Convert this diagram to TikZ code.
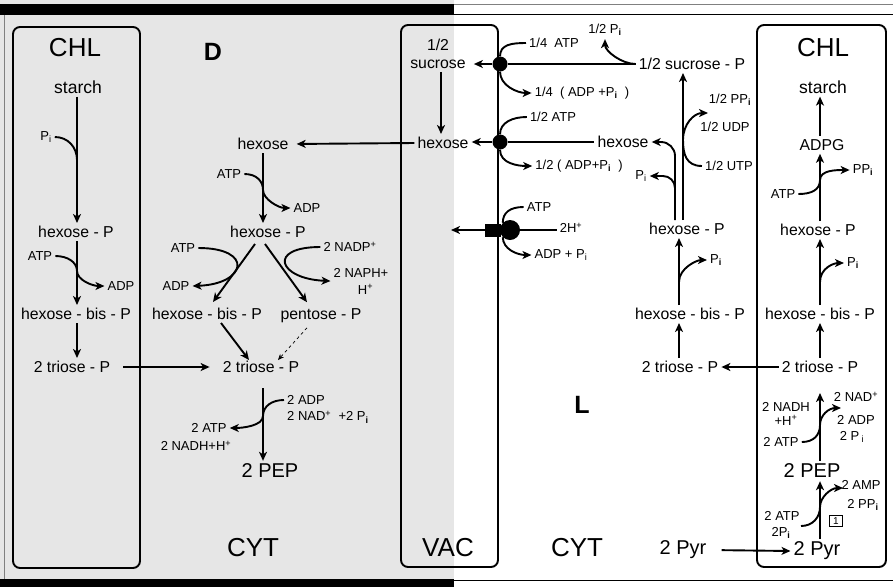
\documentclass[tikz,border=0pt]{standalone}
\usepackage{fontspec}
\setmainfont{Liberation Sans}
\usepackage{tikz}
\usetikzlibrary{arrows.meta, positioning, calc}
\definecolor{darkHalf}{HTML}{E6E6E6}
\definecolor{rimGray}{HTML}{808080}
\newcommand{\phosI}{P\textsubscript{i}}
\newcommand{\phosB}{P\textsubscript{\textbf{i}}}

\begin{document}
\begin{tikzpicture}[
  x=1pt, y=-1pt,
  every node/.style={inner sep=3pt},
  lbl/.style={font=\fontsize{15.8}{19}\selectfont},
  sml/.style={font=\fontsize{13}{15}\selectfont},
  big/.style={font=\fontsize{26}{28}\selectfont},
  pep/.style={font=\fontsize{20}{22}\selectfont},
  tag/.style={font=\fontsize{25}{27}\selectfont\bfseries},
  sta/.style={font=\fontsize{17.5}{20}\selectfont},
  cbox/.style={draw, line width=1.9pt, rounded corners=7pt},
  arr/.style={-{Stealth[length=9pt, width=8pt, inset=2.5pt]}, line width=1.9pt},
  ln/.style={line width=1.9pt},
  mdot/.style={circle, fill, inner sep=0pt}]

  \useasboundingbox (0,0) rectangle (893,587);
  % Dark and light halves
  \fill[darkHalf] (0,0) rectangle (454,587);
  \fill (0,4) rectangle (454,15);
  \fill (0,579) rectangle (454,587);
  \draw[rimGray, line width=1pt] (454,4.5) -- (893,4.5);
  \draw[line width=1pt] (454,14) -- (893,14);
  \draw[line width=1pt] (454,580) -- (893,580);
  \draw[rimGray, line width=1pt] (4,15) -- (4,579);
  % Compartments
  \foreach \xa/\ya/\xb/\yb in {13/27/140/568, 401/25/498/567, 757/25/886/567}
    \draw[cbox] (\xa,\ya) rectangle (\xb,\yb);
  \node[big] (chlL) at (75,48) {CHL};
  \node[tag] (tagD) at (213,52) {D};
  \node[big] (cytL) at (253,548) {CYT};
  \node[big] (vac) at (448,548) {VAC};
  \node[big] (cytR) at (577,548) {CYT};
  \node[tag] (tagL) at (582,405) {L};
  \node[big] (chlR) at (823,48) {CHL};
  % Columns
  \coordinate (colL) at (77,0);
  \coordinate (colM) at (263,0);
  \coordinate (colV) at (441,0);
  \coordinate (colH) at (675,0);
  \coordinate (colR) at (679,0);
  \coordinate (colS) at (683,0);
  \coordinate (colC) at (820,0);

  % Dark: chloroplast
  \node[sta] (starchL) at (78,87) {starch};
  \node[sml] (piL) at (46,137) {\phosI};
  \node[lbl] (hexpL) at (76,232) {hexose - P};
  \node[sml] (atpL) at (40,256) {ATP};
  \node[sml] (adpL) at (121,286) {ADP};
  \node[lbl] (bisL) at (76,314) {hexose - bis - P};
  \node[lbl] (trioL) at (72,367) {2 triose - P};
  \draw[arr] (starchL.south -| colL) -- (hexpL.north -| colL);
  \draw[ln] (piL.east) .. controls +(13,0) and +(0,-13) .. (77,160);
  \draw[arr] (hexpL.south -| colL) -- (bisL.north -| colL);
  \draw[arr] (atpL.east) .. controls +(12,0) and +(0,-9) .. (77,271)
    .. controls +(0,9) and +(-12,0) .. (adpL.west);
  \draw[arr] (bisL.south -| colL) -- (trioL.north -| colL);

  % Dark: cytosol
  \node[lbl] (hexM) at (263,144) {hexose};
  \node[sml] (atpM1) at (229,174) {ATP};
  \node[sml] (adpM1) at (307,208) {ADP};
  \node[lbl] (hexpM) at (268,232) {hexose - P};
  \node[sml] (atpM2) at (183,248) {ATP};
  \node[sml] (adpM2) at (176,286) {ADP};
  \node[sml] (nadpM) at (350,247) {2 NADP\textsuperscript{+}};
  \node[sml, align=center, font=\fontsize{13}{17}\selectfont] (naphM) at (361,281)
    {2 NAPH+\\\hspace*{9pt}H\textsuperscript{+}};
  \node[lbl] (bisM) at (207,314) {hexose - bis - P};
  \node[lbl] (pentM) at (321,315.5) {pentose - P};
  \node[lbl] (trioM) at (261,367) {2 triose - P};
  \node[sml, anchor=west] (adpM3) at (284,400) {2 ADP};
  \node[sml, anchor=west] (nadM3) at (284,417) {2 NAD\textsuperscript{+}\ \ +2 \phosB};
  \node[sml] (atpM3) at (209,428) {2 ATP};
  \node[sml] (nadhM) at (196,446) {2 NADH+H\textsuperscript{+}};
  \node[pep] (pepM) at (270,471) {2 PEP};
  \draw[arr, shorten <=10pt, shorten >=10pt] (trioL.east) -- (trioM.west);
  \draw[arr] (hexM.south -| colM) -- (hexpM.north -| colM);
  \draw[arr] (atpM1.east) .. controls +(12,0) and +(0,-9) .. (263,190)
    .. controls +(0,9) and +(-12,0) .. (adpM1.west);
  \draw[arr] ($(hexpM.south)+(-13,3)$) -- ($(bisM.north)+(6,-3)$);
  \draw[arr] (atpM2.east) .. controls +(56,0) and +(54,-2) .. (adpM2.east);
  \draw[arr] ($(hexpM.south)+(-3,3)$) -- ($(pentM.north)+(-14,-3)$);
  \draw[arr] (nadpM.west) .. controls +(-54,0) and +(-52,-2) .. (naphM.west);
  \draw[arr] ($(bisM.south)+(14,0)$) -- ($(trioM.north)+(-12,2)$);
  \draw[dashed, -{Stealth[length=6pt, width=5pt]}, line width=0.7pt]
    ($(pentM.south)+(-14,2)$) -- ($(trioM.north)+(17,2)$);
  \draw[arr, shorten <=12pt] (trioM.south -| colM) -- (pepM.north -| colM);
  \draw[arr] (adpM3.west) .. controls +(-12,0) and +(0,-10) .. (263,416)
    .. controls +(0,10) and +(12,0) .. (atpM3.east);

  % Vacuole
  \node[lbl, align=center, font=\fontsize{15.8}{17.5}\selectfont] (sucV) at (438,54) {1/2\\sucrose};
  \node[lbl] (hexV) at (443,143) {hexose};
  \draw[arr] (sucV.south -| colV) -- (hexV.north -| colV);
  \draw[arr, shorten >=5pt] (hexV.west) -- (hexM.east);

  % Tonoplast
  \node[mdot, minimum size=15pt] (c1) at (500,64) {};
  \node[mdot, minimum size=15pt] (c2) at (500,142) {};
  \node[mdot, minimum size=20pt] (pumpC) at (510,230) {};
  \node[fill, inner sep=0pt, minimum width=16pt, minimum height=13pt] (pumpR) at (493,230) {};
  \coordinate (pumpOut) at (451,230);
  \node[sml] (atp14) at (554,43) {1/4\ \ ATP};
  \node[sml] (pi12) at (605,30) {1/2 \phosB};
  \node[lbl] (sucP) at (692,64) {1/2 sucrose - P};
  \node[sml] (adp14) at (582,93) {1/4\ \ ( ADP +\phosB\ \ )};
  \node[sml] (atp12) at (553,117) {1/2 ATP};
  \node[lbl] (hexR) at (623,142) {hexose};
  \node[sml] (adp12) at (579,166) {1/2 ( ADP+\phosB\ \ )};
  \node[sml] (atpP) at (539,207) {ATP};
  \node[sml] (hP) at (571,228) {2H\textsuperscript{+}};
  \node[sml] (adpP) at (561,255) {ADP + \phosI};
  \draw[arr, shorten >=5pt] (c1.west) -- (c1.west -| sucV.east);
  \draw[ln] (c1) -- (sucP.west);
  \draw[arr] (sucP.west) .. controls +(-14,0) and +(0,12) .. (pi12.south);
  \draw[ln] (atp14.west) .. controls +(-14,0) and +(0,-12) .. (c1.north);
  \draw[arr] (c1.south) .. controls +(0,14) and +(-14,0) .. (adp14.west);
  \draw[arr] (c2.west) -- (c2.west -| hexV.east);
  \draw[ln] (c2) -- (hexR.west);
  \draw[ln] (atp12.west) .. controls +(-14,0) and +(0,-12) .. (c2.north);
  \draw[arr] (c2.south) .. controls +(0,14) and +(-14,0) .. (adp12.west);
  \draw[arr] (pumpR.west) -- (pumpOut);
  \draw[ln] (pumpC.east) -- (pumpC.east -| hP.west);
  \draw[ln] (atpP.west) .. controls +(-14,0) and +(0,-10) .. (pumpC.north west);
  \draw[arr] (pumpC.south west) .. controls +(0,12) and +(-14,0) .. (adpP.west);

  % Light: cytosol
  \node[sml] (ppiR) at (730,100) {1/2 PP\textsubscript{\textbf{i}}};
  \node[sml] (udpR) at (725,127) {1/2 UDP};
  \node[sml] (utpR) at (729,166) {1/2 UTP};
  \coordinate (udpTip) at (708,113);
  \node[sml] (piR1) at (641,176) {\phosI};
  \coordinate (brPi) at (675,200);
  \node[lbl] (hexpR) at (687,229) {hexose - P};
  \node[sml] (piR2) at (716,260) {\phosB};
  \coordinate (brPi2) at (679,282);
  \node[lbl] (bisR) at (690,314) {hexose - bis - P};
  \node[lbl] (trioR) at (680,367) {2 triose - P};
  \node[pep] (pyrR) at (683,550) {2 Pyr};
  \draw[arr] (hexpR.north -| colS) -- (sucP.south -| colS);
  \draw[arr, rounded corners=14pt] (hexpR.north -| colH) |- (hexR.east);
  \draw[arr, rounded corners=12pt] (brPi) |- (piR1.east);
  \draw[arr] (utpR.west) .. controls +(-16,0) and +(0,14) .. (683,140)
    .. controls +(0,-16) and +(-14,0) .. (udpTip);
  \draw[arr] (bisR.north -| colR) -- (hexpR.south -| colR);
  \draw[arr] (brPi2) .. controls +(0,-14) and +(-10,0) .. (piR2.west);
  \draw[arr] (trioR.north -| colR) -- (bisR.south -| colR);

  % Light: chloroplast
  \node[sta] (starchR) at (823,87) {starch};
  \node[lbl] (adpg) at (822,145) {ADPG};
  \node[sml] (atpC1) at (783,194) {ATP};
  \node[sml] (ppiC) at (863,170) {PP\textsubscript{\textbf{i}}};
  \node[lbl] (hexpC) at (818,230) {hexose - P};
  \node[sml] (piC) at (853,263) {\phosB};
  \coordinate (brPi3) at (820,282);
  \node[lbl] (bisC) at (820,314) {hexose - bis - P};
  \node[lbl] (trioC) at (820,367) {2 triose - P};
  \node[sml] (nadC) at (856,397) {2 NAD\textsuperscript{+}};
  \node[sml] (adpC) at (856,420) {2 ADP};
  \node[sml] (piC2) at (852,437) {2 P\,\textsubscript{i}};
  \node[sml, align=center, font=\fontsize{13}{13.5}\selectfont] (nadhC) at (786,414) {2 NADH\\+H\textsuperscript{+}};
  \node[sml] (atpC2) at (781,442) {2 ATP};
  \coordinate (nadTip) at (841,408);
  \node[pep] (pepC) at (812,471) {2 PEP};
  \node[sml] (ampC) at (861,485) {2 AMP};
  \node[sml] (ppiC2) at (863,505) {2 PP\textsubscript{\textbf{i}}};
  \coordinate (ampTip) at (843,488);
  \node[sml] (atpC3) at (782,516) {2 ATP};
  \node[sml] (piC3) at (781,533) {2P\textsubscript{\textbf{i}}};
  \coordinate (atpFrom) at (801,526);
  \node[draw, line width=0.7pt, inner sep=0pt, minimum width=13pt, minimum height=11pt,
    font=\fontsize{10}{10}\selectfont] (one) at (836,521) {1};
  \node[pep] (pyrC) at (817,551) {2 Pyr};
  \draw[arr] (adpg.north -| colC) -- (starchR.south -| colC);
  \draw[arr] (hexpC.north -| colC) -- (adpg.south -| colC);
  \draw[arr] (atpC1.east) .. controls +(13,0) and +(0,10) .. (820,180)
    .. controls +(0,-10) and +(-13,0) .. (ppiC.west);
  \draw[arr] (bisC.north -| colC) -- (hexpC.south -| colC);
  \draw[arr] (brPi3) .. controls +(0,-14) and +(-10,0) .. (piC.west);
  \draw[arr] (trioC.north -| colC) -- (bisC.south -| colC);
  \draw[arr] (trioC.west) -- (trioR.east);
  \draw[arr] (pepC.north -| colC) -- ($(trioC.south -| colC)+(0,17)$);
  \draw[arr] (atpC2.east) .. controls +(12,0) and +(0,10) .. (820,425)
    .. controls +(0,-10) and +(-12,0) .. (nadTip);
  \draw[arr] (pyrC.north -| colC) -- (pepC.south -| colC);
  \draw[arr] (atpFrom) .. controls +(12,0) and +(0,10) .. (820,507)
    .. controls +(0,-10) and +(-12,0) .. (ampTip);
  \draw[arr, shorten <=12pt] (pyrR.east) -- (pyrC.west);
\end{tikzpicture}
\end{document}
